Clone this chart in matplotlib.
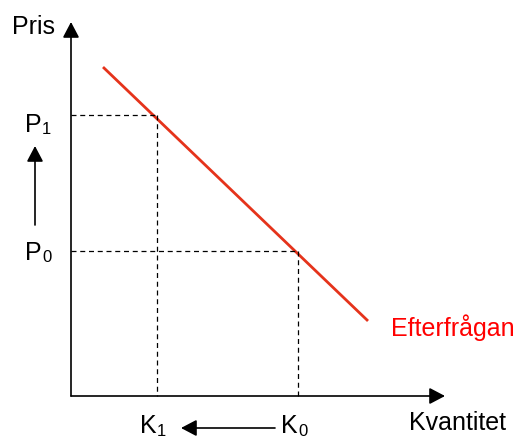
import matplotlib.pyplot as plt

plt.rcParams['font.family'] = ['Liberation Sans', 'DejaVu Sans']

# Diagram geometry in picture units (x right, y down)
origin = (71, 396)
axis_end = (445, 22)
demand_x = [104, 367]
demand_y = [68, 320]
price_levels = [251, 115]      # P0, P1
quantity_levels = [298, 157]   # K0, K1
price_label_y = [253, 125]
subs = ['0', '1']

red_line = '#e5331b'

fig = plt.figure(figsize=(5.24, 4.4), dpi=100)
ax = fig.add_axes([0, 0, 1, 1])
ax.set_xlim(0, 524)
ax.set_ylim(440, 0)
ax.axis('off')

arrow = dict(arrowstyle='-|>,head_length=0.95,head_width=0.5', color='black',
             lw=1.2, shrinkA=0, shrinkB=0, mutation_scale=10)

# axes with arrows
ax.annotate('', xy=(origin[0], axis_end[1]), xytext=origin, arrowprops=arrow)
ax.annotate('', xy=(axis_end[0], origin[1]), xytext=origin, arrowprops=arrow)

# demand curve
ax.plot(demand_x, demand_y, color=red_line, lw=2)

# dashed guides
for p, q in zip(price_levels, quantity_levels):
    ax.plot([origin[0], q], [p, p], color='black', lw=0.9, ls=(0, (4, 3)))
    ax.plot([q, q], [p, origin[1]], color='black', lw=0.9, ls=(0, (4, 3)))

# labels
fs = 18
sfs = 12
ax.text(12, 27, 'Pris', fontsize=fs, va='center', ha='left')
for y, s in zip(price_label_y, subs):
    ax.text(25, y, 'P', fontsize=fs, va='center', ha='left')
    ax.text(42, y + 5, s, fontsize=sfs, va='center', ha='left')
for q, s in zip(quantity_levels, subs):
    ax.text(q - 17, 426, 'K', fontsize=fs, va='center', ha='left')
    ax.text(q + 0, 432, s, fontsize=sfs, va='center', ha='left')

ax.text(409, 423, 'Kvantitet', fontsize=fs, va='center', ha='left')
ax.text(391, 328, 'Efterfrågan', fontsize=fs, va='center', ha='left', color='#ff0000')

# movement arrows
ax.annotate('', xy=(35, 146), xytext=(35, 225), arrowprops=arrow)
ax.annotate('', xy=(181, 428), xytext=(275, 428), arrowprops=arrow)

fig.savefig('out.png', dpi=100)
